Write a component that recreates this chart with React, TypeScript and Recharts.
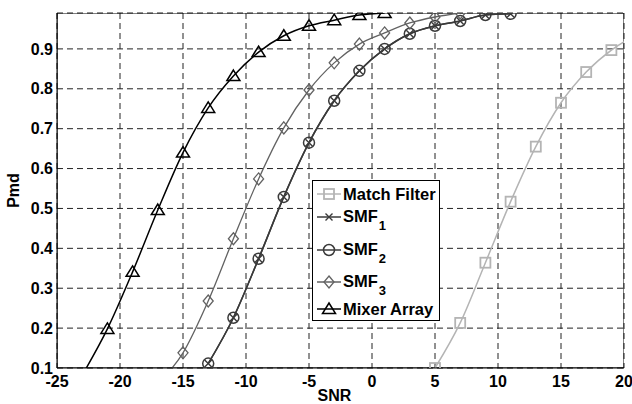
import React from 'react';
import {
  LineChart,
  Line,
  XAxis,
  YAxis,
  CartesianGrid,
  ReferenceArea,
  Label,
} from 'recharts';

// SNR grid shared by all curves (odd values only)
const snrAll = [-23, -21, -19, -17, -15, -13, -11, -9, -7, -5, -3, -1, 1, 3, 5, 7, 9, 11, 13, 15, 17, 19, 21];

const mixerSnr = [-23, -21, -19, -17, -15, -13, -11, -9, -7, -5, -3, -1, 1];
const mixerPmd = [0.082, 0.198, 0.341, 0.496, 0.64, 0.752, 0.832, 0.892, 0.933, 0.958, 0.972, 0.985, 0.99];

const smf3Snr = [-17, -15, -13, -11, -9, -7, -5, -3, -1, 1, 3, 5, 7];
const smf3Pmd = [0.06, 0.138, 0.268, 0.424, 0.574, 0.702, 0.797, 0.865, 0.912, 0.94, 0.965, 0.98, 0.99];

const smfSnr = [-13, -11, -9, -7, -5, -3, -1, 1, 3, 5, 7, 9, 11];
const smf1Pmd = [0.111, 0.226, 0.374, 0.529, 0.665, 0.77, 0.845, 0.9, 0.938, 0.958, 0.97, 0.985, 0.988];
const smf2Pmd = [0.111, 0.226, 0.374, 0.529, 0.665, 0.77, 0.845, 0.9, 0.938, 0.958, 0.97, 0.985, 0.988];

const matchSnr = [5, 7, 9, 11, 13, 15, 17, 19, 21];
const matchPmd = [0.1, 0.213, 0.364, 0.517, 0.655, 0.765, 0.842, 0.897, 0.935];

const xTicks = [-25, -20, -15, -10, -5, 0, 5, 10, 15, 20];
const yTicks = [0.1, 0.2, 0.3, 0.4, 0.5, 0.6, 0.7, 0.8, 0.9];

const pick = (xs: number[], ys: number[], x: number) => {
  const i = xs.indexOf(x);
  return i < 0 ? null : ys[i];
};

const data = snrAll.map((x) => ({
  snr: x,
  match: pick(matchSnr, matchPmd, x),
  smf1: pick(smfSnr, smf1Pmd, x),
  smf2: pick(smfSnr, smf2Pmd, x),
  smf3: pick(smf3Snr, smf3Pmd, x),
  mixer: pick(mixerSnr, mixerPmd, x),
}));

const FONT = '"Liberation Sans", Arial, Helvetica, sans-serif';

const C_MATCH = '#b4b4b4';
const C_SMF = '#3a3a3a';
const C_SMF3 = '#626262';
const C_MIXER = '#000000';

type M = { cx: number; cy: number; color: string };

const Tri = ({ cx, cy, color }: M) => (
  <path d={`M${cx},${cy - 6} L${cx + 6.5},${cy + 4.5} L${cx - 6.5},${cy + 4.5} Z`} fill="none" stroke={color} strokeWidth={1.5} />
);
const Dia = ({ cx, cy, color }: M) => (
  <path d={`M${cx},${cy - 6} L${cx + 5},${cy} L${cx},${cy + 6} L${cx - 5},${cy} Z`} fill="none" stroke={color} strokeWidth={1.3} />
);
const Circ = ({ cx, cy, color }: M) => (
  <circle cx={cx} cy={cy} r={5.5} fill="none" stroke={color} strokeWidth={1.5} />
);
const Cross = ({ cx, cy, color }: M) => (
  <path d={`M${cx - 3.5},${cy - 3.5} L${cx + 3.5},${cy + 3.5} M${cx + 3.5},${cy - 3.5} L${cx - 3.5},${cy + 3.5}`} stroke={color} strokeWidth={1.4} />
);
const Sq = ({ cx, cy, color }: M) => (
  <rect x={cx - 5} y={cy - 5} width={10} height={10} fill="none" stroke={color} strokeWidth={1.8} />
);

const dotOf = (Shape: React.FC<M>, color: string) => (props: any) => {
  const { cx, cy, value, key, index } = props;
  const k = key ?? `d-${index}`;
  if (value == null || cx == null || cy == null || isNaN(cy)) return <g key={k} />;
  return (
    <g key={k}>
      <Shape cx={cx} cy={cy} color={color} />
    </g>
  );
};

const legendItems = [
  { name: 'Match Filter', sub: '', color: C_MATCH, shape: Sq, top: 13 },
  { name: 'SMF', sub: '1', color: C_SMF, shape: Cross, top: 36 },
  { name: 'SMF', sub: '2', color: C_SMF, shape: Circ, top: 69 },
  { name: 'SMF', sub: '3', color: C_SMF3, shape: Dia, top: 101 },
  { name: 'Mixer Array', sub: '', color: C_MIXER, shape: Tri, top: 128 },
];

function LegendBox() {
  return (
    <div
      style={{
        position: 'absolute',
        left: 312,
        top: 180,
        width: 126,
        height: 139,
        border: '1px solid #000',
        background: '#fff',
        fontFamily: FONT,
        fontWeight: 'bold',
        fontSize: 16.5,
      }}
    >
      {legendItems.map((it) => {
        const Shape = it.shape;
        return (
          <div key={it.name + it.sub} style={{ position: 'absolute', left: 0, top: it.top - 10, height: 20, display: 'flex', alignItems: 'center' }}>
            <svg width={30} height={20} style={{ display: 'block' }}>
              <line x1={4} y1={10} x2={28} y2={10} stroke={it.color} strokeWidth={1.5} />
              <Shape cx={16} cy={10} color={it.color} />
            </svg>
            <span style={{ color: '#000', whiteSpace: 'nowrap', lineHeight: '20px' }}>
              {it.name}
              {it.sub && (
                <span style={{ fontSize: 13, position: 'relative', top: 8, marginLeft: 1 }}>{it.sub}</span>
              )}
            </span>
          </div>
        );
      })}
    </div>
  );
}

const tickStyle = { fontFamily: FONT, fontWeight: 'bold' as const, fontSize: 16, fill: '#000' };

export default function App() {
  return (
    <div style={{ position: 'absolute', left: 0, top: 0, width: 632, height: 404, background: '#fff' }}>
      <LineChart width={632} height={404} data={data} margin={{ top: 13, right: 8, bottom: 0, left: 0 }}>
        <CartesianGrid stroke="#222" strokeDasharray="6 4" />
        <XAxis
          dataKey="snr"
          type="number"
          domain={[-25, 20]}
          ticks={xTicks}
          allowDataOverflow
          height={36}
          tickLine={false}
          tickSize={6}
          tickMargin={2}
          axisLine={{ stroke: '#000' }}
          tick={tickStyle}
          interval={0}
        >
          <Label
            content={(p: any) => {
              const vb = p.viewBox;
              return (
                <text x={vb.x + vb.width / 2 - 6} y={vb.y + vb.height - 3} textAnchor="middle" style={tickStyle}>
                  SNR
                </text>
              );
            }}
          />
        </XAxis>
        <YAxis
          type="number"
          domain={[0.1, 0.99]}
          ticks={yTicks}
          allowDataOverflow
          width={57}
          tickLine={false}
          tickSize={2}
          tickMargin={2}
          axisLine={{ stroke: '#000' }}
          tick={tickStyle}
          interval={0}
        >
          <Label
            content={(p: any) => {
              const vb = p.viewBox;
              const x = vb.x + 19;
              const y = vb.y + vb.height / 2;
              return (
                <text x={x} y={y} transform={`rotate(-90 ${x} ${y})`} textAnchor="middle" style={tickStyle}>
                  Pmd
                </text>
              );
            }}
          />
        </YAxis>
        <ReferenceArea x1={-25} x2={20} y1={0.1} y2={0.99} fill="none" stroke="#000" strokeWidth={1} ifOverflow="hidden" />
        <Line type="monotone" dataKey="match" stroke={C_MATCH} strokeWidth={1.5} dot={dotOf(Sq, C_MATCH)} isAnimationActive={false} />
        <Line type="monotone" dataKey="smf1" stroke={C_SMF} strokeWidth={1.5} dot={dotOf(Cross, C_SMF)} isAnimationActive={false} />
        <Line type="monotone" dataKey="smf2" stroke={C_SMF} strokeWidth={1.5} dot={dotOf(Circ, C_SMF)} isAnimationActive={false} />
        <Line type="monotone" dataKey="smf3" stroke={C_SMF3} strokeWidth={1.3} dot={dotOf(Dia, C_SMF3)} isAnimationActive={false} />
        <Line type="monotone" dataKey="mixer" stroke={C_MIXER} strokeWidth={1.5} dot={dotOf(Tri, C_MIXER)} isAnimationActive={false} />
      </LineChart>
      <LegendBox />
    </div>
  );
}
